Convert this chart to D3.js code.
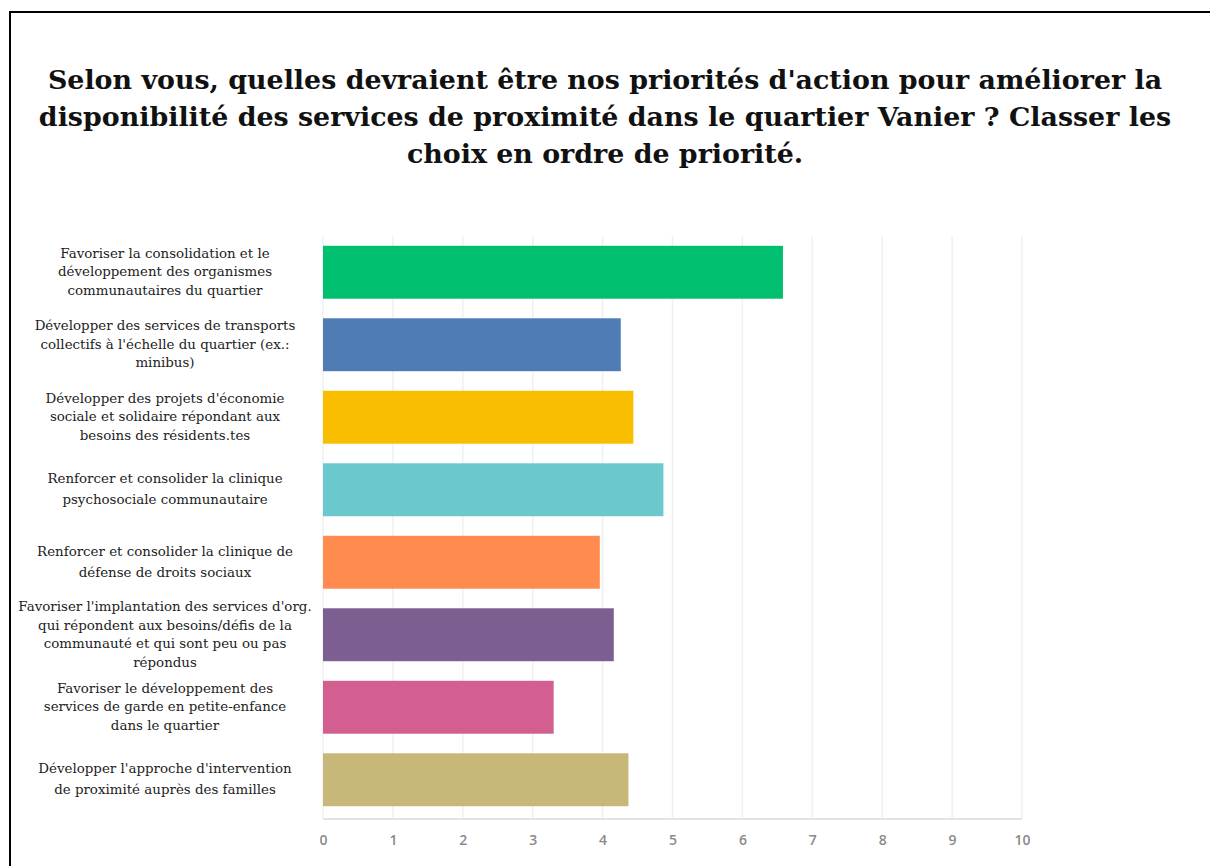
<!DOCTYPE html>
<html>
<head>
<meta charset="utf-8">
<script src="https://cdn.jsdelivr.net/npm/d3@7"></script>
<style>
  body { margin: 0; background: #fff; }
  svg { display: block; }
</style>
</head>
<body>
<svg id="chart" width="1210" height="866"></svg>
<script>
// chart data
const titleLines = [
    "Selon vous, quelles devraient être nos priorités d'action pour améliorer la",
    "disponibilité des services de proximité dans le quartier Vanier ? Classer les",
    "choix en ordre de priorité."
];

const categories = [
    ["Favoriser la consolidation et le", "développement des organismes", "communautaires du quartier"],
    ["Développer des services de transports", "collectifs à l'échelle du quartier (ex.:", "minibus)"],
    ["Développer des projets d'économie", "sociale et solidaire répondant aux", "besoins des résidents.tes"],
    ["Renforcer et consolider la clinique", "psychosociale communautaire"],
    ["Renforcer et consolider la clinique de", "défense de droits sociaux"],
    ["Favoriser l'implantation des services d'org.", "qui répondent aux besoins/défis de la", "communauté et qui sont peu ou pas", "répondus"],
    ["Favoriser le développement des", "services de garde en petite-enfance", "dans le quartier"],
    ["Développer l'approche d'intervention", "de proximité auprès des familles"]
];

const values = [6.58, 4.26, 4.44, 4.87, 3.96, 4.16, 3.30, 4.37];

const colors = ["#00bf6f", "#507cb6", "#f9be00", "#6bc8cd", "#ff8b4f", "#7d5e90", "#d25f90", "#c7b879"];

const xTicks = [0, 1, 2, 3, 4, 5, 6, 7, 8, 9, 10];

const svg = d3.select("#chart");

// frame: only top and left edges are visible
svg.append("line").attr("x1", 9).attr("x2", 1210).attr("y1", 12).attr("y2", 12)
    .attr("stroke", "#000").attr("stroke-width", 2);
svg.append("line").attr("x1", 10).attr("x2", 10).attr("y1", 11).attr("y2", 866)
    .attr("stroke", "#000").attr("stroke-width", 2);

// title
const title = svg.append("g").attr("class", "title");
const titleFont = "'DejaVu Serif', serif";
titleLines.forEach((t, i) => {
    title.append("text")
        .attr("x", 605)
        .attr("y", 89 + i * 37)
        .attr("text-anchor", "middle")
        .style("font-family", titleFont)
        .style("font-weight", "bold")
        .style("font-size", "28px")
        .style("fill", "#111")
        .text(t);
});
// fit first line to the reference width
const firstLen = title.select("text").node().getComputedTextLength();
const fitted = 28 * 1115 / firstLen;
title.selectAll("text").style("font-size", fitted + "px");

const x = d3.scaleLinear().domain([0, 10]).range([323, 1022]);
const y = d3.scaleBand()
    .domain(d3.range(categories.length))
    .range([236, 816])
    .paddingInner(0.27)
    .paddingOuter(0.135);

const plotTop = 236, plotBottom = 819;

// grid
svg.append("g").selectAll("line")
    .data(xTicks)
    .join("line")
    .attr("x1", d => x(d)).attr("x2", d => x(d))
    .attr("y1", plotTop).attr("y2", plotBottom)
    .attr("stroke", "#f0f0f0")
    .attr("stroke-width", 1.5);

// baseline
svg.append("line")
    .attr("x1", x(0)).attr("x2", x(10))
    .attr("y1", plotBottom).attr("y2", plotBottom)
    .attr("stroke", "#e4e4e4").attr("stroke-width", 2);

// bars
svg.append("g").selectAll("rect")
    .data(values)
    .join("rect")
    .attr("x", x(0))
    .attr("y", (d, i) => y(i))
    .attr("width", d => x(d) - x(0))
    .attr("height", y.bandwidth())
    .attr("fill", (d, i) => colors[i]);

// x axis
const xAxis = svg.append("g")
    .attr("transform", `translate(0,${plotBottom})`)
    .call(d3.axisBottom(x).tickValues(xTicks).tickSize(0).tickPadding(16));
xAxis.select(".domain").remove();
xAxis.selectAll("text")
    .style("font-family", "'Open Sans', sans-serif")
    .style("font-size", "14px")
    .style("font-weight", "600")
    .style("fill", "#8a8a8a");

// category labels
const labelFont = "'DejaVu Serif', serif";
const labels = svg.append("g").attr("class", "labels");
categories.forEach((lines, i) => {
    const cy = y(i) + y.bandwidth() / 2;
    const lh = lines.length > 2 ? 18.5 : 21;
    const t = labels.append("text")
        .attr("text-anchor", "middle")
        .style("font-family", labelFont)
        .style("font-size", "13.4px")
        .style("fill", "#222");
    lines.forEach((ln, j) => {
        t.append("tspan")
            .attr("x", 165)
            .attr("y", cy + (j - (lines.length - 1) / 2) * lh + 4)
            .text(ln);
    });
});
</script>
</body>
</html>
